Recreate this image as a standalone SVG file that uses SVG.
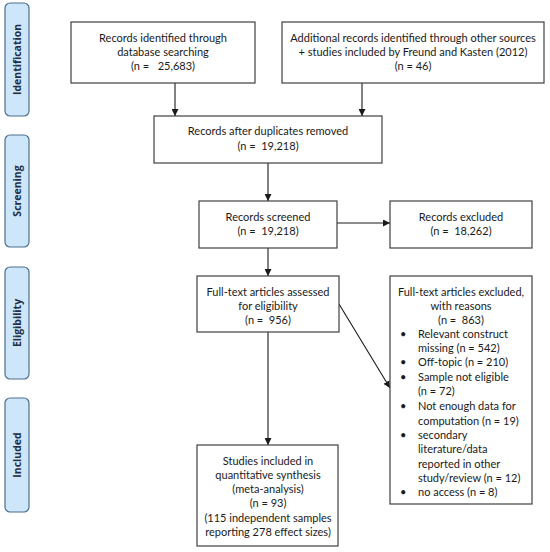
<svg xmlns="http://www.w3.org/2000/svg" width="550" height="552" viewBox="0 0 550 552">
<style>
.box{fill:#fff;stroke:#404040;stroke-width:1.2}
.side{fill:#cde6fa;stroke:#4d6f8f;stroke-width:1.2}
.t{font-family:Lato,"Open Sans","Liberation Sans",sans-serif;font-size:11px;fill:#1a1a1a;text-anchor:middle;white-space:pre}
.l{text-anchor:start}
.s{font-family:"Open Sans","Liberation Sans",sans-serif;font-size:10.5px;font-weight:bold;fill:#1f2f45;text-anchor:middle}
.c{fill:none;stroke:#1a1a1a;stroke-width:1.1}
</style>
<defs>
<marker id="ah" viewBox="0 0 10 10" refX="10" refY="5" markerWidth="7" markerHeight="7" orient="auto" markerUnits="userSpaceOnUse">
<path d="M0,0L10,5L0,10z" fill="#1a1a1a"/>
</marker>
</defs>
<g id="side-identification"><rect class="side" x="5" y="3" width="24" height="113" rx="5"/><text class="s" transform="translate(21,59.5) rotate(-90)">Identification</text></g>
<g id="side-screening"><rect class="side" x="5" y="135" width="24" height="112" rx="5"/><text class="s" transform="translate(21,191) rotate(-90)">Screening</text></g>
<g id="side-eligibility"><rect class="side" x="5" y="267" width="24" height="112" rx="5"/><text class="s" transform="translate(21,323) rotate(-90)">Eligibility</text></g>
<g id="side-included"><rect class="side" x="5" y="398" width="24" height="114" rx="5"/><text class="s" transform="translate(21,455) rotate(-90)">Included</text></g>

<g id="connectors">
<line class="c" x1="175" y1="83" x2="175" y2="116" marker-end="url(#ah)"/>
<line class="c" x1="362" y1="83" x2="362" y2="116" marker-end="url(#ah)"/>
<line class="c" x1="268" y1="163" x2="268" y2="201" marker-end="url(#ah)"/>
<line class="c" x1="337" y1="223" x2="390" y2="223" marker-end="url(#ah)"/>
<line class="c" x1="268" y1="248" x2="268" y2="276" marker-end="url(#ah)"/>
<line class="c" x1="339" y1="304" x2="390" y2="388" marker-end="url(#ah)"/>
<line class="c" x1="268" y1="332" x2="268" y2="445" marker-end="url(#ah)"/>
</g>

<g id="n1"><rect class="box" x="71" y="22" width="184" height="61"/>
<text class="t" x="163" y="42">Records identified through</text>
<text class="t" x="163" y="56">database searching</text>
<text class="t" x="163" y="70">(n =   25,683)</text></g>

<g id="n2"><rect class="box" x="282" y="22" width="262" height="61"/>
<text class="t" x="413" y="42">Additional records identified through other sources</text>
<text class="t" x="413" y="56">+ studies included by Freund and Kasten (2012)</text>
<text class="t" x="413" y="70">(n = 46)</text></g>

<g id="n3"><rect class="box" x="154" y="116" width="228" height="47"/>
<text class="t" x="268" y="135">Records after duplicates removed</text>
<text class="t" x="268" y="150">(n =  19,218)</text></g>

<g id="n4"><rect class="box" x="199" y="201" width="138" height="47"/>
<text class="t" x="268" y="221">Records screened</text>
<text class="t" x="268" y="235">(n =  19,218)</text></g>

<g id="n5"><rect class="box" x="390" y="201" width="142" height="47"/>
<text class="t" x="461" y="221">Records excluded</text>
<text class="t" x="461" y="235">(n =  18,262)</text></g>

<g id="n6"><rect class="box" x="197" y="276" width="142" height="56"/>
<text class="t" x="268" y="296">Full-text articles assessed</text>
<text class="t" x="268" y="310">for eligibility</text>
<text class="t" x="268" y="324">(n =  956)</text></g>

<g id="n7"><rect class="box" x="390" y="276" width="142" height="228"/>
<text class="t" x="461" y="296">Full-text articles excluded,</text>
<text class="t" x="461" y="310">with reasons</text>
<text class="t" x="461" y="324">(n =  863)</text>
<text class="t l" x="400" y="338">•</text><text class="t l" x="418" y="338">Relevant construct</text>
<text class="t l" x="418" y="352">missing (n = 542)</text>
<text class="t l" x="400" y="366">•</text><text class="t l" x="418" y="366">Off-topic (n = 210)</text>
<text class="t l" x="400" y="381">•</text><text class="t l" x="418" y="381">Sample not eligible</text>
<text class="t l" x="418" y="395">(n = 72)</text>
<text class="t l" x="400" y="410">•</text><text class="t l" x="418" y="410">Not enough data for</text>
<text class="t l" x="418" y="425">computation (n = 19)</text>
<text class="t l" x="400" y="439">•</text><text class="t l" x="418" y="439">secondary</text>
<text class="t l" x="418" y="453">literature/data</text>
<text class="t l" x="418" y="468">reported in other</text>
<text class="t l" x="418" y="482">study/review (n = 12)</text>
<text class="t l" x="400" y="496">•</text><text class="t l" x="418" y="496">no access (n = 8)</text>
</g>

<g id="n8"><rect class="box" x="197" y="445" width="141" height="101"/>
<text class="t" x="268" y="465">Studies included in</text>
<text class="t" x="268" y="479">quantitative synthesis</text>
<text class="t" x="268" y="493">(meta-analysis)</text>
<text class="t" x="268" y="507">(n = 93)</text>
<text class="t" x="268" y="522">(115 independent samples</text>
<text class="t" x="268" y="536">reporting 278 effect sizes)</text></g>
</svg>
